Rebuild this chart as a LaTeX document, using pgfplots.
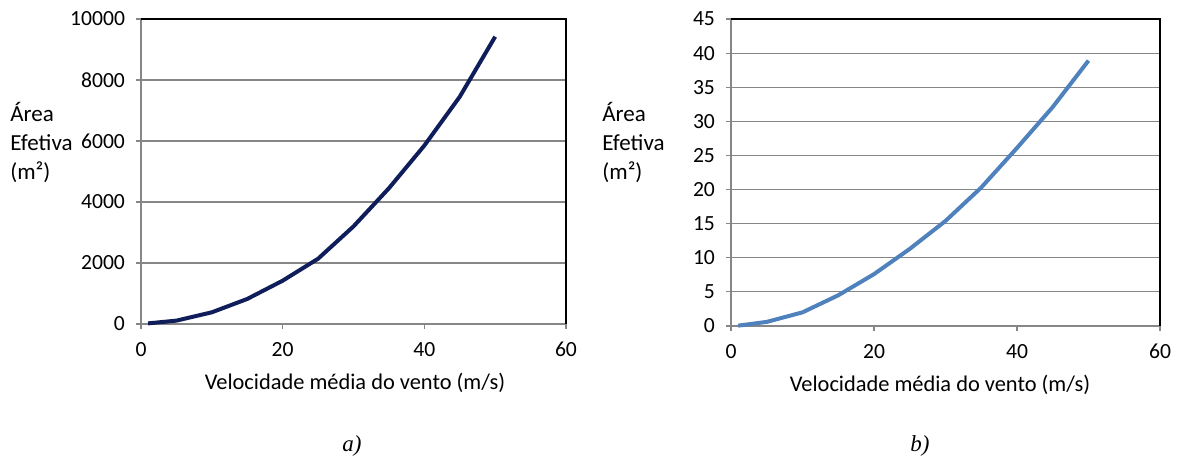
\documentclass[border=0pt]{standalone}
\usepackage{fontspec}
\setmainfont{Carlito}
\newfontfamily\capfont{Liberation Serif}
\usepackage{pgfplots}
\pgfplotsset{compat=1.18}

\definecolor{gridgray}{HTML}{868686}
\definecolor{navy}{HTML}{0F1E5A}
\definecolor{exblue}{HTML}{4F81BD}

\pgfplotsset{
  excel/.style={
    scale only axis,
    xmin=0, xmax=60, xtick={0,20,40,60},
    ymin=0,
    axis line style={draw=gridgray, line width=0.6pt},
    tick style={draw=gridgray, line width=0.6pt},
    tick align=outside,
    major tick length=2.5pt,
    xtick pos=bottom, ytick pos=left,
    ymajorgrids,
    grid style={gridgray, line width=0.6pt},
    /pgf/number format/assume math mode=true,
    /pgf/number format/1000 sep={},
    scaled y ticks=false,
    ticklabel style={font=\fontsize{10.8}{12}\selectfont},
    yticklabel style={xshift=-2pt},
    xticklabel style={yshift=-3pt},
    clip=false,
  }
}

\begin{document}
\begin{tikzpicture}
\path[use as bounding box] (0,0) rectangle (589.5pt,229.5pt);

% a)
\begin{axis}[excel,
  at={(70.5pt,67.5pt)}, anchor=south west,
  width=212.5pt, height=152.5pt,
  ymax=10000, ytick distance=2000]
  \addplot[navy, line width=2pt] coordinates {
    (1,20) (5,110) (10,383) (15,821) (20,1420) (25,2140)
    (30,3200) (35,4450) (40,5850) (45,7450) (50,9420)
  };
  \draw[black, line width=0.6pt] (rel axis cs:0,1) -- (rel axis cs:1,1) -- (rel axis cs:1,0);
\end{axis}

% b)
\begin{axis}[excel,
  at={(365.5pt,66.5pt)}, anchor=south west,
  width=214.5pt, height=153.5pt,
  ymax=45, ytick distance=5]
  \addplot[exblue, line width=2pt] coordinates {
    (1,0.05) (5,0.6) (10,2.0) (15,4.5) (20,7.6) (25,11.3)
    (30,15.4) (35,20.3) (40,26.1) (45,32.1) (50,38.9)
  };
  \draw[black, line width=0.6pt] (rel axis cs:0,1) -- (rel axis cs:1,1) -- (rel axis cs:1,0);
\end{axis}

\node[anchor=west, align=left, inner sep=0pt, font=\fontsize{11.5}{14.5}\selectfont] at (5pt,158pt) {Área\\Efetiva\\(m²)};
\node[anchor=west, align=left, inner sep=0pt, font=\fontsize{11.5}{14.5}\selectfont] at (301pt,158pt) {Área\\Efetiva\\(m²)};

\node[font=\fontsize{11.2}{13}\selectfont] at (177.5pt,38pt) {Velocidade média do vento (m/s)};
\node[font=\fontsize{11.2}{13}\selectfont] at (470pt,37pt) {Velocidade média do vento (m/s)};

\node[font=\capfont\itshape\fontsize{11.5}{13}\selectfont] at (176pt,6.5pt) {a)};
\node[font=\capfont\itshape\fontsize{11.5}{13}\selectfont] at (460pt,6.5pt) {b)};
\end{tikzpicture}
\end{document}
